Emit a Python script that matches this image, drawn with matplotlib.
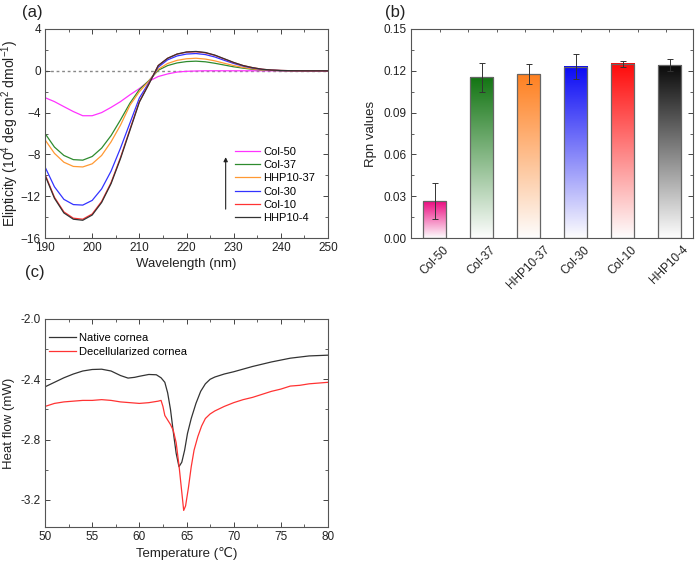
import numpy as np
import matplotlib
matplotlib.use('Agg')
from matplotlib import pyplot as plt
from matplotlib.colors import LinearSegmentedColormap
from matplotlib.ticker import MultipleLocator, FormatStrFormatter

plt.rcParams['font.family'] = ['Liberation Sans', 'DejaVu Sans']
plt.rcParams['mathtext.fontset'] = 'custom'
plt.rcParams['mathtext.rm'] = 'Liberation Sans'
plt.rcParams['mathtext.it'] = 'Liberation Sans'

# (a) CD spectra
wavelength = [190, 192, 194, 196, 198, 200, 202, 204, 206, 208, 210, 212, 214, 216, 218,
              220, 222, 224, 226, 228, 230, 232, 234, 236, 238, 240, 242, 245, 250]
col50 = [-2.57, -2.95, -3.43, -3.9, -4.3, -4.3, -4.0, -3.5, -2.95, -2.3, -1.7, -1.0, -0.55, -0.3, -0.12,
         -0.05, -0.02, 0, 0, 0, 0, 0, 0, 0, 0, 0, 0, 0, 0]
col37 = [-6.0, -7.3, -8.1, -8.5, -8.55, -8.2, -7.4, -6.2, -4.7, -3.1, -1.8, -0.95, 0.05, 0.5, 0.75,
         0.88, 0.92, 0.86, 0.72, 0.55, 0.38, 0.25, 0.14, 0.07, 0.03, 0.01, 0, 0, 0]
hhp10_37 = [-6.6, -7.9, -8.75, -9.15, -9.2, -8.9, -8.1, -6.8, -5.2, -3.3, -2.0, -1.0, 0.15, 0.7, 1.0,
            1.15, 1.2, 1.12, 0.95, 0.72, 0.5, 0.32, 0.18, 0.09, 0.04, 0.02, 0.01, 0, 0]
col30 = [-9.2, -11.1, -12.3, -12.8, -12.85, -12.4, -11.3, -9.6, -7.4, -5.0, -2.6, -1.15, 0.35, 1.05, 1.42,
         1.6, 1.65, 1.55, 1.32, 1.0, 0.7, 0.45, 0.26, 0.13, 0.06, 0.02, 0.01, 0, 0]
col10 = [-9.9, -12.1, -13.5, -14.1, -14.2, -13.7, -12.5, -10.7, -8.3, -5.6, -2.95, -1.25, 0.5, 1.2, 1.6,
         1.78, 1.82, 1.72, 1.48, 1.13, 0.78, 0.5, 0.3, 0.15, 0.07, 0.03, 0.01, 0, 0]
hhp10_4 = [-10.0, -12.2, -13.6, -14.2, -14.3, -13.8, -12.6, -10.8, -8.4, -5.7, -3.0, -1.3, 0.5, 1.2, 1.6,
           1.8, 1.85, 1.75, 1.5, 1.15, 0.8, 0.5, 0.3, 0.15, 0.07, 0.03, 0.01, 0, 0]
cd_names = ['Col-50', 'Col-37', 'HHP10-37', 'Col-30', 'Col-10', 'HHP10-4']
cd_colors = ['#ff33ff', '#2e8b2e', '#ff9933', '#3333ff', '#ff3333', '#333333']

# (b) Rpn values
samples = ['Col-50', 'Col-37', 'HHP10-37', 'Col-30', 'Col-10', 'HHP10-4']
rpn = [0.0265, 0.1152, 0.1175, 0.123, 0.125, 0.124]
rpn_err = [0.0132, 0.0103, 0.0072, 0.0088, 0.0022, 0.0042]
bar_colors = ['#ec0a80', '#137513', '#ff8020', '#0a0af5', '#ff0a0a', '#0a0a0a']

# (c) DSC
t_native = [50, 51, 52, 53, 54, 55, 56, 57, 58, 58.8, 59.5, 60, 61, 61.8, 62.3, 62.7, 63, 63.3, 63.6,
            63.9, 64.2, 64.5, 64.8, 65.1, 65.5, 66, 66.5, 67, 67.5, 68, 69, 70, 72, 74, 76, 78, 80]
native = [-2.45, -2.42, -2.39, -2.365, -2.345, -2.335, -2.333, -2.345, -2.375, -2.392, -2.387, -2.38,
          -2.368, -2.37, -2.39, -2.42, -2.49, -2.60, -2.75, -2.89, -2.98, -2.95, -2.87, -2.76, -2.66,
          -2.56, -2.48, -2.43, -2.40, -2.385, -2.365, -2.35, -2.315, -2.285, -2.26, -2.245, -2.24]
t_decell = [50, 51, 52, 53, 54, 55, 56, 57, 58, 59, 60, 61, 62, 62.3, 62.5, 62.7, 63, 63.3, 63.6, 63.9,
            64.2, 64.5, 64.7, 64.9, 65.2, 65.5, 65.8, 66.2, 66.6, 67, 67.5, 68, 69, 70, 71, 72, 73, 74,
            75, 76, 77, 78, 79, 80]
decell = [-2.58, -2.56, -2.55, -2.545, -2.54, -2.54, -2.535, -2.54, -2.55, -2.555, -2.56, -2.555,
          -2.545, -2.54, -2.58, -2.64, -2.67, -2.70, -2.74, -2.82, -2.97, -3.15, -3.27, -3.24, -3.12,
          -2.98, -2.87, -2.78, -2.71, -2.66, -2.63, -2.61, -2.58, -2.555, -2.535, -2.52, -2.50, -2.48,
          -2.465, -2.445, -2.44, -2.43, -2.425, -2.42]


def style_axes(ax):
    ax.tick_params(which='both', direction='in', top=True, right=True,
                   labelsize=8.5, colors='#444444', labelcolor='#222222', pad=3)
    ax.tick_params(which='major', length=3.5, width=0.7)
    ax.tick_params(which='minor', length=2, width=0.6)
    for s in ax.spines.values():
        s.set_color('#555555')
        s.set_linewidth(0.8)


fig = plt.figure(figsize=(6.97, 5.67), dpi=100)
ax_a = fig.add_axes([0.0646, 0.5802, 0.406, 0.3687])
ax_b = fig.add_axes([0.5897, 0.5802, 0.4046, 0.3687])
ax_c = fig.add_axes([0.0646, 0.0705, 0.406, 0.3669])

# ---- (a)
ax_a.axhline(0, color='#888888', lw=1, ls=(0, (2, 2)), zorder=1)
cd_series = [col50, col37, hhp10_37, col30, col10, hhp10_4]
for y, name, c in zip(cd_series, cd_names, cd_colors):
    ax_a.plot(wavelength, y, color=c, lw=0.9, label=name)
ax_a.set_xlim(190, 250)
ax_a.set_ylim(-16, 4)
ax_a.xaxis.set_major_locator(MultipleLocator(10))
ax_a.xaxis.set_minor_locator(MultipleLocator(5))
ax_a.yaxis.set_major_locator(MultipleLocator(4))
ax_a.yaxis.set_minor_locator(MultipleLocator(2))
style_axes(ax_a)
ax_a.set_xlabel('Wavelength (nm)', fontsize=9.5, color='#222222', labelpad=3)
ax_a.set_ylabel('Elipticity (10$^4$ deg cm$^2$ dmol$^{-1}$)', fontsize=10, color='#222222')
ax_a.yaxis.set_label_coords(-0.085, 0.5)
ax_a.legend(loc='upper left', bbox_to_anchor=(0.637, 0.485), frameon=False, fontsize=8,
            handlelength=2.2, handletextpad=0.3, labelspacing=0.3, borderpad=0.4)
ax_a.annotate('', xy=(228.3, -8.0), xytext=(228.3, -13.5),
              arrowprops=dict(arrowstyle='-|>', color='#222222', lw=0.8, mutation_scale=6))

# ---- (b)
x = np.arange(len(samples))
w = 0.5
grad = np.linspace(0, 1, 256).reshape(-1, 1)
for xi, h, c in zip(x, rpn, bar_colors):
    cmap = LinearSegmentedColormap.from_list('g', ['#fdfdfd', c])
    ax_b.imshow(grad, cmap=cmap, extent=[xi - w / 2, xi + w / 2, 0, h],
                origin='lower', aspect='auto', zorder=1)
ax_b.bar(x, rpn, width=w, facecolor='none', edgecolor='#666666', linewidth=0.9, zorder=2)
ax_b.errorbar(x, rpn, yerr=rpn_err, fmt='none', ecolor='#333333', elinewidth=0.7,
              capsize=2.5, capthick=0.7, zorder=3)
ax_b.set_xlim(-0.5, 5.5)
ax_b.set_ylim(0, 0.15)
ax_b.set_xticks(x)
ax_b.set_xticklabels(samples, rotation=45, ha='center', va='top')
ax_b.set_xticks(np.arange(0.12, 5.5, 0.6), minor=True)
ax_b.yaxis.set_major_locator(MultipleLocator(0.03))
ax_b.yaxis.set_minor_locator(MultipleLocator(0.015))
ax_b.yaxis.set_major_formatter(FormatStrFormatter('%.2f'))
style_axes(ax_b)
ax_b.tick_params(axis='x', which='both', bottom=False)
ax_b.tick_params(axis='x', which='major', top=False, pad=4)
ax_b.set_ylabel('Rpn values', fontsize=9.5, color='#222222', labelpad=5)

# ---- (c)
ax_c.plot(t_native, native, color='#333333', lw=0.9, label='Native cornea')
ax_c.plot(t_decell, decell, color='#ff3333', lw=0.9, label='Decellularized cornea')
ax_c.set_xlim(50, 80)
ax_c.set_ylim(-3.38, -2.0)
ax_c.xaxis.set_major_locator(MultipleLocator(5))
ax_c.xaxis.set_minor_locator(MultipleLocator(2.5))
ax_c.yaxis.set_major_locator(MultipleLocator(0.4))
ax_c.yaxis.set_minor_locator(MultipleLocator(0.2))
ax_c.yaxis.set_major_formatter(FormatStrFormatter('%.1f'))
style_axes(ax_c)
ax_c.set_xlabel('Temperature (\u2103)', fontsize=9.5, color='#222222', labelpad=3)
ax_c.set_ylabel('Heat flow (mW)', fontsize=9.5, color='#222222')
ax_c.yaxis.set_label_coords(-0.105, 0.5)
ax_c.legend(loc='upper left', bbox_to_anchor=(0.0, 0.955), frameon=False, fontsize=8,
            handlelength=2.4, handletextpad=0.25, labelspacing=0.35, borderaxespad=0.0,
            borderpad=0.4)

fig.text(0.032, 0.978, '(a)', fontsize=12, va='center', color='#222222')
fig.text(0.553, 0.978, '(b)', fontsize=12, va='center', color='#222222')
fig.text(0.036, 0.519, '(c)', fontsize=12, va='center', color='#222222')

fig.savefig('out.png', dpi=100)
